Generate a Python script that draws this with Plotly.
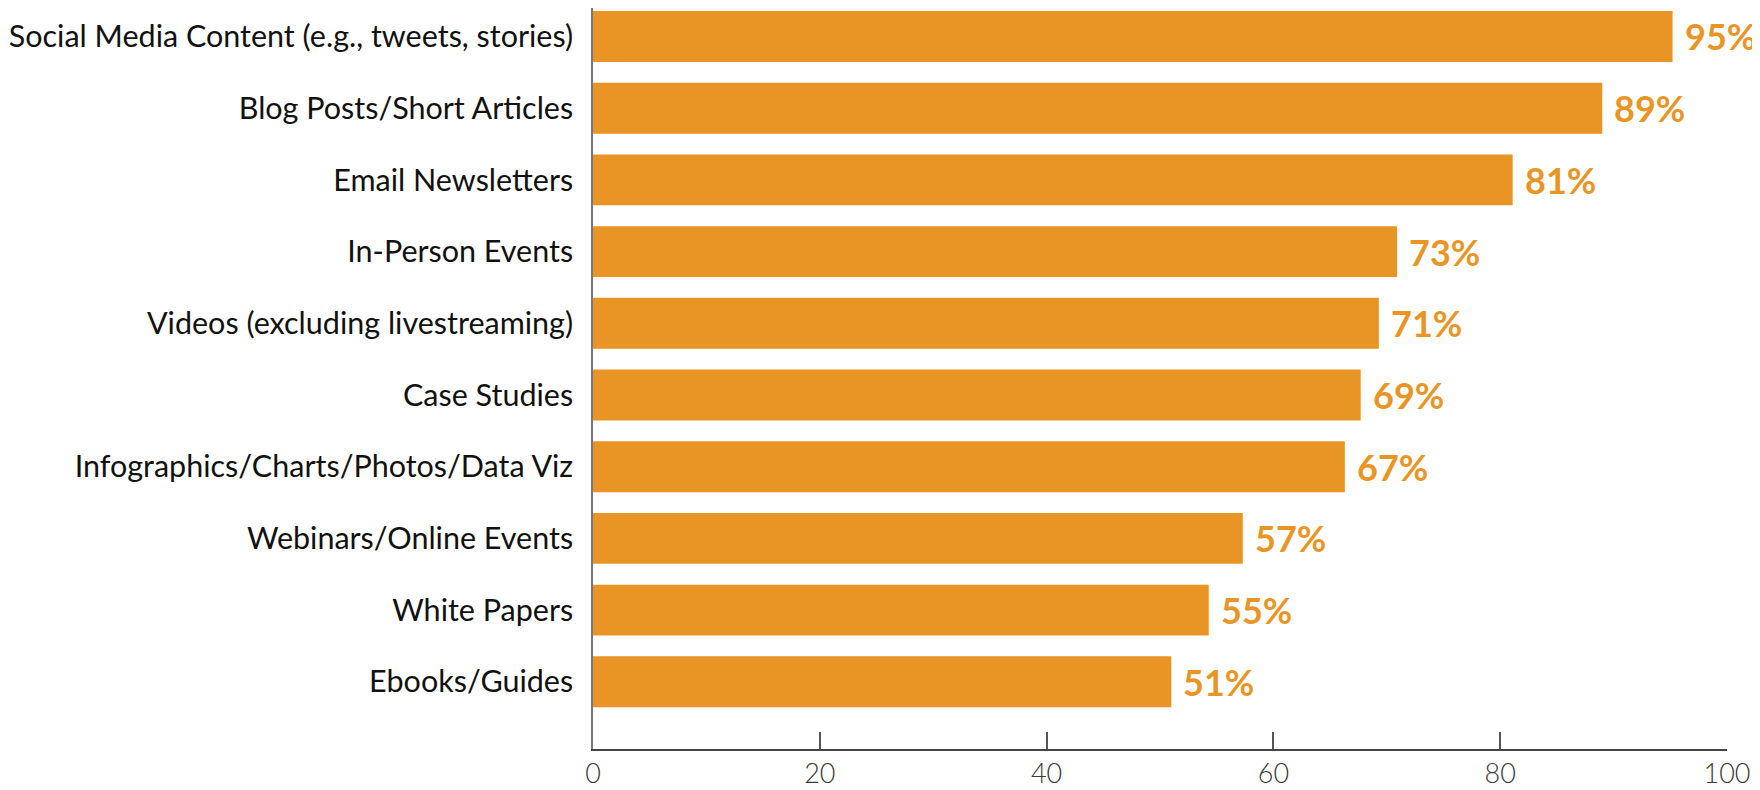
import plotly.graph_objects as go

categories = [
    "Social Media Content (e.g., tweets, stories)",
    "Blog Posts/Short Articles",
    "Email Newsletters",
    "In-Person Events",
    "Videos (excluding livestreaming)",
    "Case Studies",
    "Infographics/Charts/Photos/Data Viz",
    "Webinars/Online Events",
    "White Papers",
    "Ebooks/Guides",
]
# bar lengths as drawn in the picture
bar_values = [95.2, 89.0, 81.1, 70.9, 69.3, 67.7, 66.3, 57.3, 54.3, 51.0]
# value labels as printed
label_values = [95, 89, 81, 73, 71, 69, 67, 57, 55, 51]
x_ticks = [0, 20, 40, 60, 80, 100]

ORANGE = "#E99526"
FONT = "Lato"

fig = go.Figure(
    go.Bar(
        x=bar_values,
        y=categories,
        orientation="h",
        marker=dict(color=ORANGE, line=dict(width=0)),
        width=0.71,
        hoverinfo="skip",
    )
)

for cat, xv, lv in zip(categories, bar_values, label_values):
    fig.add_annotation(
        x=xv,
        y=cat,
        xref="x",
        yref="y",
        text=f"{lv}%",
        showarrow=False,
        xanchor="left",
        yanchor="middle",
        xshift=10,
        font=dict(family=FONT, size=36, color=ORANGE, weight="bold"),
    )

# page body has an 8px margin, so figure is sized/offset to compensate
fig.update_layout(
    width=1752,
    height=782,
    margin=dict(l=585, r=33, t=0, b=41),
    paper_bgcolor="white",
    plot_bgcolor="white",
    showlegend=False,
    font=dict(family=FONT),
)

fig.update_xaxes(
    range=[0, 100],
    tickvals=x_ticks,
    ticks="inside",
    ticklen=17,
    tickwidth=1.5,
    tickcolor="#555555",
    showline=True,
    linecolor="#444444",
    linewidth=1.5,
    showgrid=False,
    zeroline=False,
    tickfont=dict(family=FONT, size=27, color="#3a3a3a", weight=300),
)

fig.update_yaxes(
    categoryorder="array",
    categoryarray=categories,
    range=[9.937, -0.397],
    showline=True,
    linecolor="#777777",
    linewidth=1.5,
    showgrid=False,
    zeroline=False,
    ticks="",
    ticklabelstandoff=12,
    tickfont=dict(family=FONT, size=30.5, color="#111111"),
)

fig.write_html("out.html")
